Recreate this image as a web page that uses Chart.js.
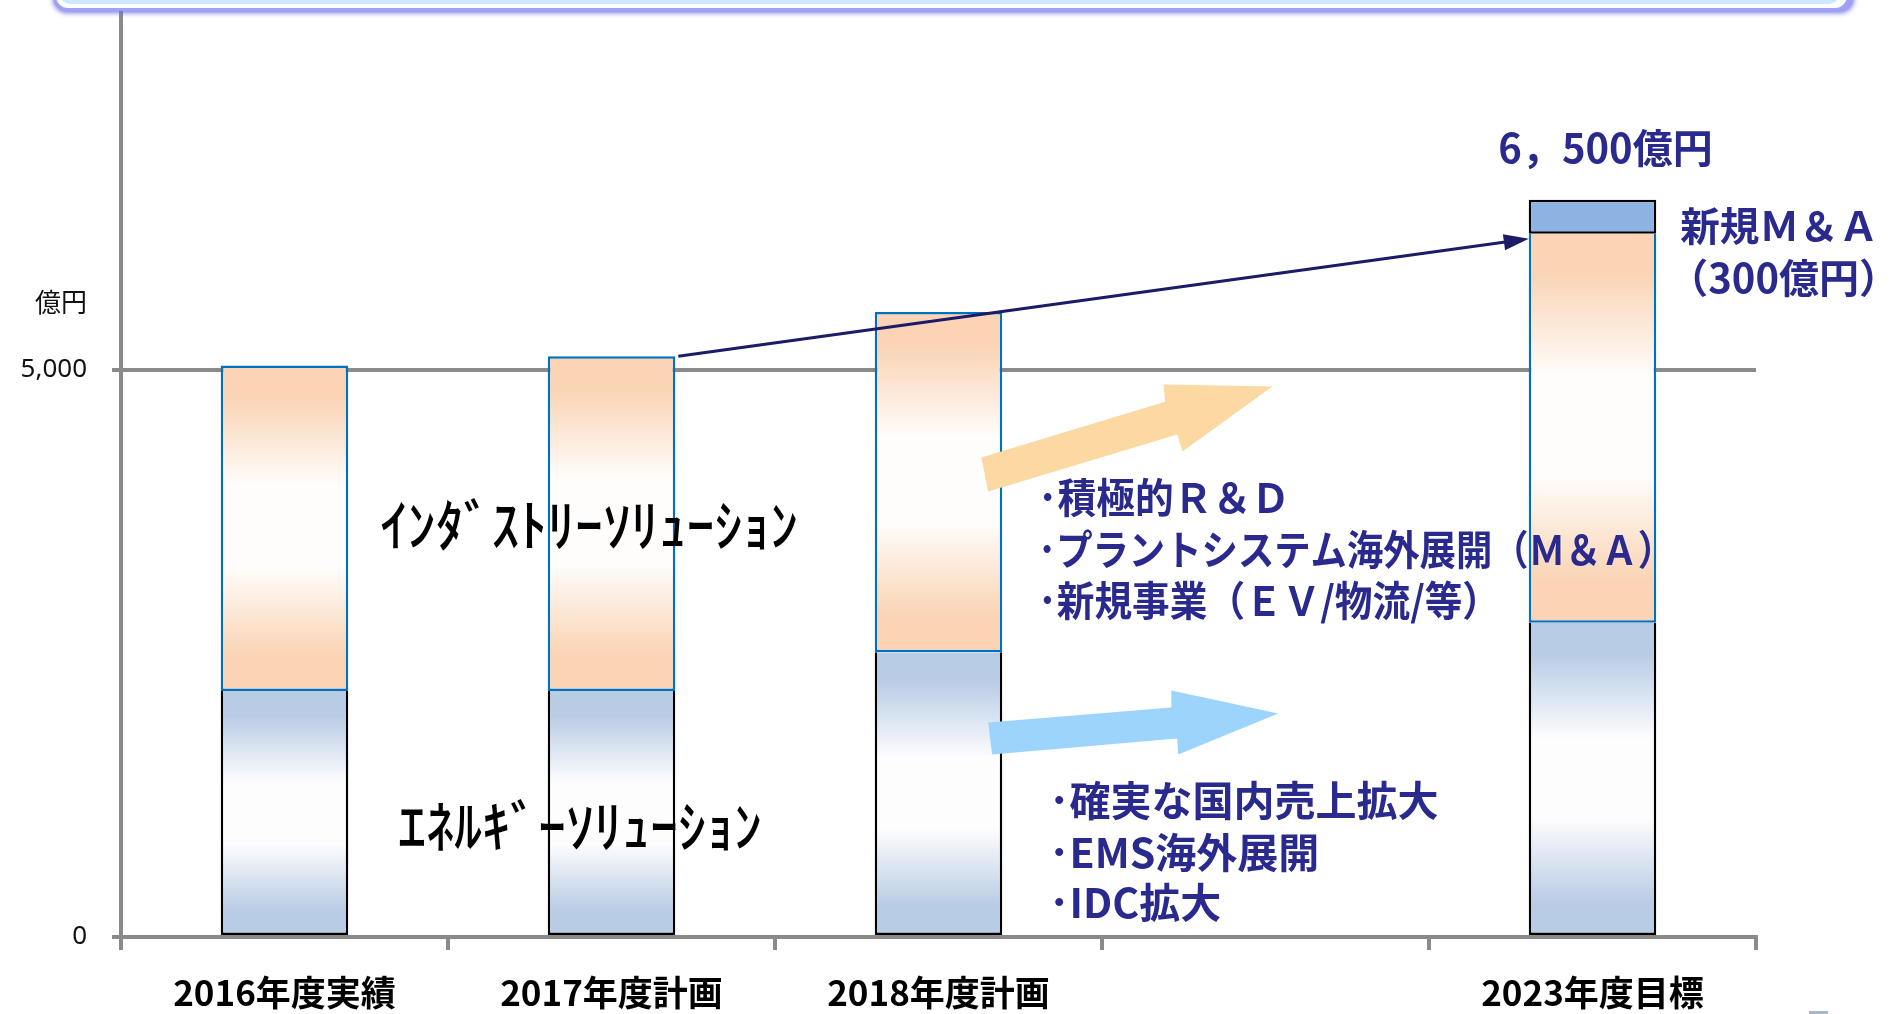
<!DOCTYPE html>
<html lang="ja">
<head>
<meta charset="utf-8">
<title>売上高計画</title>
<script src="https://cdn.jsdelivr.net/npm/chart.js@4.4.1/dist/chart.umd.min.js"></script>
<style>
  html, body { margin: 0; padding: 0; background: #fff; }
  #wrap { width: 1892px; height: 1014px; }
</style>
</head>
<body>
<div id="wrap"><canvas id="salesChart"></canvas></div>
<script>
// 年度（4番目は空き枠）
const categories = ['2016年度実績', '2017年度計画', '2018年度計画', '', '2023年度目標'];
// 売上高（億円）
const energyValues   = [2170, 2170, 2510, null, 2770];
const industryValues = [2870, 2950, 3000, null, 3430];
const newMAValues    = [null, null, null, null, 300];
const yTicks = [0, 5000];
const yMax = 8200;

const navy = '#2a2a8e';
const axisGrey = '#8a8a8a';
const jp = '"Noto Sans CJK JP", "Noto Sans", sans-serif';

// vertical gradient: colour at both ends, near white in the middle
const barGradient = (ctx, below, values, edge, mid) => {
    const chart = ctx.chart;
    if (!chart.chartArea) return edge;
    const i = ctx.dataIndex;
    const lo = below.reduce((s, arr) => s + (arr[i] || 0), 0);
    const hi = lo + (values[i] || 0);
    const y = chart.scales.y;
    const g = chart.ctx.createLinearGradient(0, y.getPixelForValue(hi), 0, y.getPixelForValue(lo));
    g.addColorStop(0, edge);
    g.addColorStop(0.1, edge);
    g.addColorStop(0.37, mid);
    g.addColorStop(0.62, mid);
    g.addColorStop(0.89, edge);
    g.addColorStop(1, edge);
    return g;
};

// arrows, in (category index, value) coordinates
const orangeArrow = [[2.131, 4228], [2.693, 4720], [2.688, 4872], [3.021, 4854], [2.746, 4281], [2.730, 4431], [2.152, 3929]];
const blueArrow = [[2.152, 1892], [2.712, 2024], [2.712, 2174], [3.039, 1971], [2.733, 1609], [2.730, 1750], [2.164, 1609]];

const roundRect = (ctx, x, y, w, h, r, color) => {
    ctx.beginPath();
    ctx.roundRect(x, y, w, h, r);
    ctx.fillStyle = color;
    ctx.fill();
};

const drawText = (ctx, str, x, y, font, color, align, maxW) => {
    ctx.font = font;
    ctx.fillStyle = color;
    ctx.textAlign = align || 'left';
    ctx.textBaseline = 'middle';
    if (maxW) ctx.fillText(str, x, y, maxW);
    else ctx.fillText(str, x, y);
};

const annotations = {
    id: 'annotations',
    afterDraw(chart) {
        const { ctx, scales: { x, y } } = chart;
        const px = (i, v) => [x.getPixelForValue(i), y.getPixelForValue(v)];
        ctx.save();

        // frame of the title box cut at the top
        ctx.save();
        ctx.shadowColor = 'rgba(110,110,235,0.9)';
        ctx.shadowBlur = 5;
        ctx.shadowOffsetY = 2;
        roundRect(ctx, 53, -40, 1801, 51, 14, '#a0a0f4');
        ctx.restore();
        roundRect(ctx, 56, -40, 1791, 48, 12, '#ffffff');
        roundRect(ctx, 60, -40, 1779, 44, 10, '#cdeafc');

        // unit
        drawText(ctx, '億円', y.right - 34, y.getPixelForValue(5000) - 68, '26px ' + jp, '#111', 'right');

        // block arrows
        [[orangeArrow, '#fcd8a2'], [blueArrow, '#9dd4fb']].forEach(([pts, color]) => {
            ctx.beginPath();
            pts.forEach(([i, v], k) => {
                const [ax, ay] = px(i, v);
                if (k === 0) ctx.moveTo(ax, ay); else ctx.lineTo(ax, ay);
            });
            ctx.closePath();
            ctx.fillStyle = color;
            ctx.fill();
        });

        // growth arrow from 2017 to 2023
        const from = chart.getDatasetMeta(1).data[1];
        const to = chart.getDatasetMeta(1).data[4];
        const x0 = from.x + from.width / 2 + 3, y0 = from.y;
        const x1 = to.x - to.width / 2, y1 = to.y + 5;
        const ang = Math.atan2(y1 - y0, x1 - x0);
        ctx.strokeStyle = '#1b1b68';
        ctx.fillStyle = '#1b1b68';
        ctx.lineWidth = 3;
        ctx.beginPath();
        ctx.moveTo(x0, y0);
        ctx.lineTo(x1 - 20 * Math.cos(ang), y1 - 20 * Math.sin(ang));
        ctx.stroke();
        ctx.beginPath();
        ctx.moveTo(x1, y1);
        ctx.lineTo(x1 - 25 * Math.cos(ang) + 8 * Math.sin(ang), y1 - 25 * Math.sin(ang) - 8 * Math.cos(ang));
        ctx.lineTo(x1 - 25 * Math.cos(ang) - 8 * Math.sin(ang), y1 - 25 * Math.sin(ang) + 8 * Math.cos(ang));
        ctx.closePath();
        ctx.fill();

        // segment names
        drawText(ctx, 'ｲﾝﾀﾞｽﾄﾘｰｿﾘｭｰｼｮﾝ', 380, 525, '500 56px ' + jp, '#000', 'left', 418);
        drawText(ctx, 'ｴﾈﾙｷﾞｰｿﾘｭｰｼｮﾝ', 398, 826, '500 56px ' + jp, '#000', 'left', 384);

        // 2023 target
        const [tx, ty] = px(4, 6500);
        drawText(ctx, '6，500億円', tx + 13, ty - 52, 'bold 40px ' + jp, navy, 'center', 228);
        drawText(ctx, '新規Ｍ＆Ａ', to.x + to.width / 2 + 24, 226, 'bold 40px ' + jp, navy, 'left', 198);
        drawText(ctx, '（300億円）', to.x + to.width / 2 + 12, 278, 'bold 40px ' + jp, navy, 'left');

        // industry measures
        drawText(ctx, '･積極的Ｒ＆Ｄ', 1038, 497, 'bold 41px ' + jp, navy, 'left', 252);
        drawText(ctx, '･プラントシステム海外展開（Ｍ＆Ａ）', 1038, 549, 'bold 41px ' + jp, navy, 'left', 636);
        drawText(ctx, '･新規事業（ＥＶ/物流/等）', 1038, 600, 'bold 41px ' + jp, navy, 'left', 462);

        // energy measures
        drawText(ctx, '･確実な国内売上拡大', 1049, 800, 'bold 41px ' + jp, navy, 'left', 400);
        drawText(ctx, '･EMS海外展開', 1049, 852, 'bold 41px ' + jp, navy, 'left');
        drawText(ctx, '･IDC拡大', 1049, 902, 'bold 41px ' + jp, navy, 'left');

        // small mark at the page corner
        ctx.fillStyle = '#a8b8cc';
        ctx.fillRect(1809, 1011, 19, 3);
        ctx.restore();
    }
};

const chart = new Chart(document.getElementById('salesChart'), {
    type: 'bar',
    data: {
        labels: categories,
        datasets: [
            {
                label: 'エネルギーソリューション',
                data: energyValues,
                backgroundColor: ctx => barGradient(ctx, [], energyValues, '#b9cce5', '#fdfdfe'),
                borderColor: '#000000',
                borderWidth: 2.5,
                // leave the boundary to the blue edge of the segment above
                borderSkipped: 'top'
            },
            {
                label: 'インダストリーソリューション',
                data: industryValues,
                backgroundColor: ctx => barGradient(ctx, [energyValues], industryValues, '#fad4b5', '#fffdfb'),
                borderColor: '#0070c0',
                borderWidth: 2.5,
                borderSkipped: ctx => (newMAValues[ctx.dataIndex] ? 'top' : false)
            },
            {
                label: '新規M&A',
                data: newMAValues,
                backgroundColor: '#8db3e2',
                borderColor: '#000000',
                borderWidth: 2.5,
                borderSkipped: false
            }
        ]
    },
    options: {
        responsive: true,
        maintainAspectRatio: false,
        animation: false,
        layout: { padding: { top: 7, right: 136, left: 0, bottom: 0 } },
        plugins: {
            legend: { display: false },
            tooltip: { enabled: false }
        },
        datasets: {
            bar: { categoryPercentage: 1, barPercentage: 0.39 }
        },
        scales: {
            x: {
                stacked: true,
                afterFit: s => {
                    s.height = 77;
                    s.paddingLeft = 0;
                    s.paddingRight = 0;
                },
                grid: {
                    drawOnChartArea: false,
                    drawTicks: true,
                    tickLength: 13,
                    lineWidth: 4,
                    color: axisGrey
                },
                border: { color: axisGrey, width: 4 },
                ticks: {
                    color: '#000',
                    padding: 22,
                    maxRotation: 0,
                    font: { family: jp, size: 35, weight: 'bold' }
                }
            },
            y: {
                stacked: true,
                min: 0,
                max: yMax,
                afterFit: s => {
                    s.width = 121;
                    s.paddingTop = 0;
                    s.paddingBottom = 0;
                },
                afterBuildTicks: s => { s.ticks = yTicks.map(v => ({ value: v })); },
                grid: {
                    lineWidth: 4,
                    color: axisGrey,
                    tickLength: 9
                },
                border: { color: axisGrey, width: 4 },
                ticks: {
                    color: '#111',
                    padding: 25,
                    font: { family: '"Noto Sans", sans-serif', size: 26 },
                    callback: v => v.toLocaleString('en-US')
                }
            }
        }
    },
    plugins: [annotations]
});
</script>
</body>
</html>
